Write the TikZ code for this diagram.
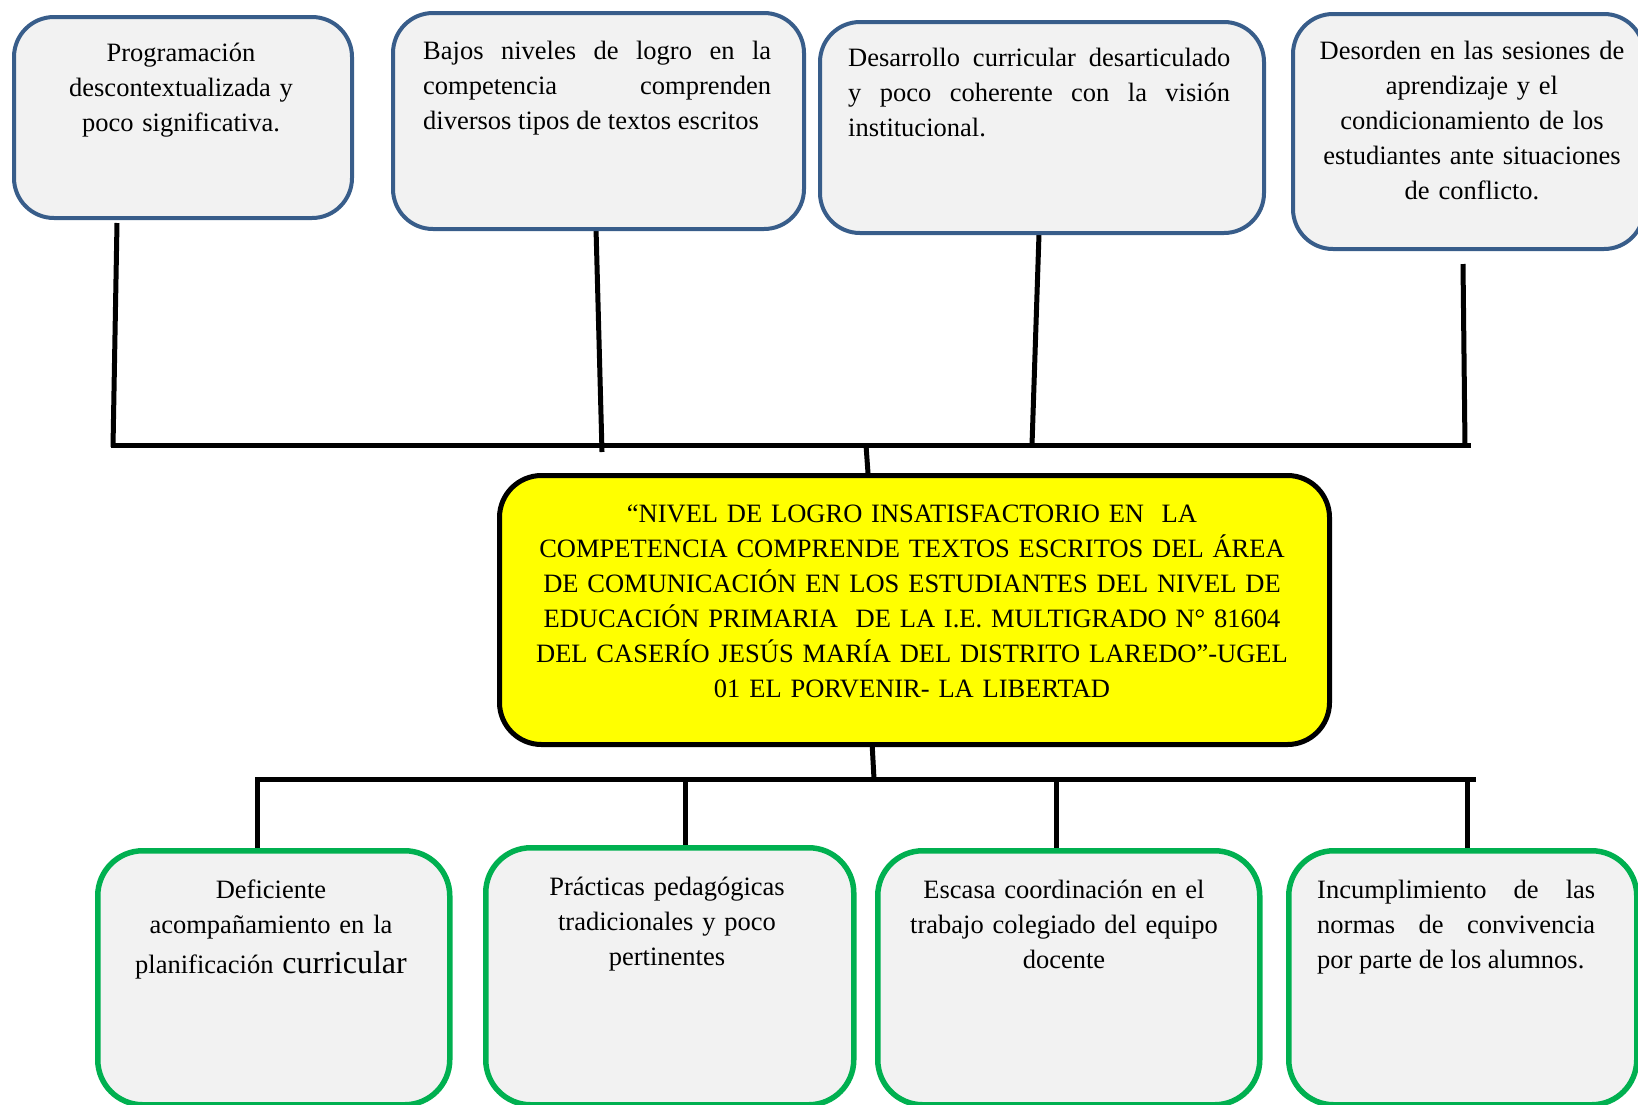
\documentclass[tikz,border=0pt]{standalone}
\usepackage{fontspec}
\setmainfont{Liberation Serif}
\usetikzlibrary{backgrounds}
\definecolor{topblue}{HTML}{385D8A}
\definecolor{boxgray}{HTML}{F2F2F2}
\definecolor{botgreen}{HTML}{00B050}
\definecolor{centeryellow}{HTML}{FFFF00}
\hyphenpenalty=10000
\exhyphenpenalty=10000
\tolerance=10000
\begin{document}
\begin{tikzpicture}[x=1pt,y=-1pt,
  topbox/.style={draw=topblue, line width=4pt, fill=boxgray, rounded corners=40pt, anchor=north west, inner sep=0pt},
  botbox/.style={draw=botgreen, line width=5.5pt, fill=boxgray, rounded corners=45pt, anchor=north west, inner sep=0pt},
  mainbox/.style={draw=black, line width=5pt, fill=centeryellow, rounded corners=42pt, anchor=north west, inner sep=0pt},
  txt/.style={inner sep=0pt, font=\fontsize{26.5}{35}\selectfont},
  ctxt/.style={txt, align=center, anchor=base},
  jtxt/.style={txt, align=justify, anchor=base west},
  link/.style={line width=5pt, draw=black}
]
\useasboundingbox (0,0) rectangle (1638,1104);

% top boxes
\node[topbox, minimum width=338pt, minimum height=201pt] (t1) at (12,15) {};
\node[topbox, minimum width=411pt, minimum height=216pt] (t2) at (391,11) {};
\node[topbox, minimum width=444pt, minimum height=211pt] (t3) at (818,20) {};
\node[topbox, minimum width=351pt, minimum height=235pt] (t4) at (1291,12) {};

\node[ctxt, text width=330pt] (t1txt) at (181,61) {Programación\\descontextualizada y\\poco significativa.};
\node[jtxt, text width=348pt] (t2txt) at (423,59) {Bajos niveles de logro en la\linebreak competencia comprenden\linebreak diversos tipos de textos escritos};
\node[jtxt, text width=382pt] (t3txt) at (848,66) {Desarrollo curricular desarticulado\linebreak y poco coherente con la visión\linebreak institucional.};
\node[ctxt, text width=345pt] (t4txt) at (1472,59) {Desorden en las sesiones de\\aprendizaje y el\\condicionamiento de los\\estudiantes ante situaciones\\de conflicto.};

% main box
\node[mainbox, minimum width=830pt, minimum height=269pt] (main) at (497,473) {};
\node[ctxt, text width=820pt] (maintxt) at (912,522) {“NIVEL DE LOGRO INSATISFACTORIO EN\ \ LA\\COMPETENCIA COMPRENDE TEXTOS ESCRITOS DEL ÁREA\\DE COMUNICACIÓN EN LOS ESTUDIANTES DEL NIVEL DE\\EDUCACIÓN PRIMARIA\ \ DE LA I.E. MULTIGRADO N° 81604\\DEL CASERÍO JESÚS MARÍA DEL DISTRITO LAREDO”-UGEL\\01 EL PORVENIR- LA LIBERTAD};

% bottom boxes
\node[botbox, minimum width=352pt, minimum height=254pt] (b1) at (95,848) {};
\node[botbox, minimum width=368pt, minimum height=257pt] (b2) at (483,845) {};
\node[botbox, minimum width=382pt, minimum height=254pt] (b3) at (875,848) {};
\node[botbox, minimum width=348pt, minimum height=254pt] (b4) at (1286,848) {};

\node[ctxt, text width=345pt] (b1txt) at (271,898) {Deficiente\\acompañamiento en la\\[5pt]planificación {\fontsize{32}{40}\selectfont curricular}};
\node[ctxt, text width=360pt] (b2txt) at (667,895) {Prácticas pedagógicas\\tradicionales y poco\\pertinentes};
\node[ctxt, text width=375pt] (b3txt) at (1064,898) {Escasa coordinación en el\\trabajo colegiado del equipo\\docente};
\node[jtxt, text width=278pt] (b4txt) at (1317,898) {Incumplimiento de las\linebreak normas de convivencia\linebreak por parte de los alumnos.};

% connector points
\coordinate (a1) at (117,223); \coordinate (h1) at (113,447);
\coordinate (a2) at (596,228); \coordinate (h2) at (602,452);
\coordinate (a3) at (1039,234); \coordinate (h3) at (1032,445);
\coordinate (a4) at (1463,264); \coordinate (h4) at (1465,447);
\coordinate (hl) at (111,445); \coordinate (hr) at (1471,445);
\coordinate (hc) at (866,445); \coordinate (mt) at (868,473);
\coordinate (mb) at (872,742); \coordinate (bc) at (874,779);
\coordinate (bl) at (255,779); \coordinate (br) at (1476,779);
\coordinate (d1) at (257,779); \coordinate (d2) at (685,779);
\coordinate (d3) at (1056,779); \coordinate (d4) at (1467,779);

\begin{scope}[on background layer]
\draw[link] (a1) -- (h1);
\draw[link] (a2) -- (h2);
\draw[link] (a3) -- (h3);
\draw[link] (a4) -- (h4);
\draw[link] (hl) -- (hr);
\draw[link] (hc) -- (mt);
\draw[link] (mb) -- (bc);
\draw[link] (bl) -- (br);
\draw[link] (d1) -- (d1 |- b1.north);
\draw[link] (d2) -- (d2 |- b2.north);
\draw[link] (d3) -- (d3 |- b3.north);
\draw[link] (d4) -- (d4 |- b4.north);
\end{scope}
\end{tikzpicture}
\end{document}
